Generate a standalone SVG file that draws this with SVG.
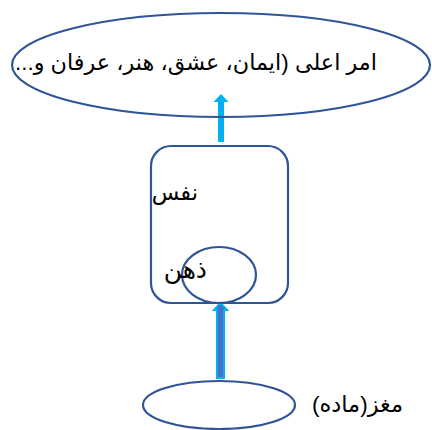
<svg xmlns="http://www.w3.org/2000/svg" width="432" height="430" viewBox="0 0 432 430">
<style>
.shape{fill:none;stroke:#2F5597;stroke-width:2.2}
.t{font-family:"Liberation Sans","DejaVu Sans",sans-serif;fill:#000;direction:rtl}
</style>
<rect width="432" height="430" fill="#fff"/>
<g id="connectors">
<path d="M218 142 L218 102 L213.5 102 L221 94 L228.5 102 L224 102 L224 142 Z" fill="#00B0F0"/>
<path d="M217 378 L217 310 L214 310 L220.5 303 L227 310 L224 310 L224 378 Z" fill="#4472C4" stroke="#00B0F0" stroke-width="2"/>
</g>
<g id="top">
<ellipse class="shape" cx="221" cy="65" rx="209" ry="52"/>
<text class="t" x="377" y="70" font-size="22.3" text-anchor="start">امر اعلی (ایمان، عشق، هنر، عرفان و...</text>
</g>
<g id="nafs">
<rect class="shape" x="151" y="146" width="137" height="157" rx="20"/>
<text class="t" x="198" y="200" font-size="22.5" text-anchor="start">نفس</text>
</g>
<g id="zehn">
<ellipse class="shape" cx="219" cy="275" rx="37" ry="28"/>
<text class="t" x="207" y="278" font-size="25" text-anchor="start">ذهن</text>
</g>
<g id="maghz">
<ellipse class="shape" cx="219" cy="405" rx="76" ry="24"/>
<text class="t" x="403" y="412" font-size="22.5" text-anchor="start">مغز(ماده)</text>
</g>
</svg>
